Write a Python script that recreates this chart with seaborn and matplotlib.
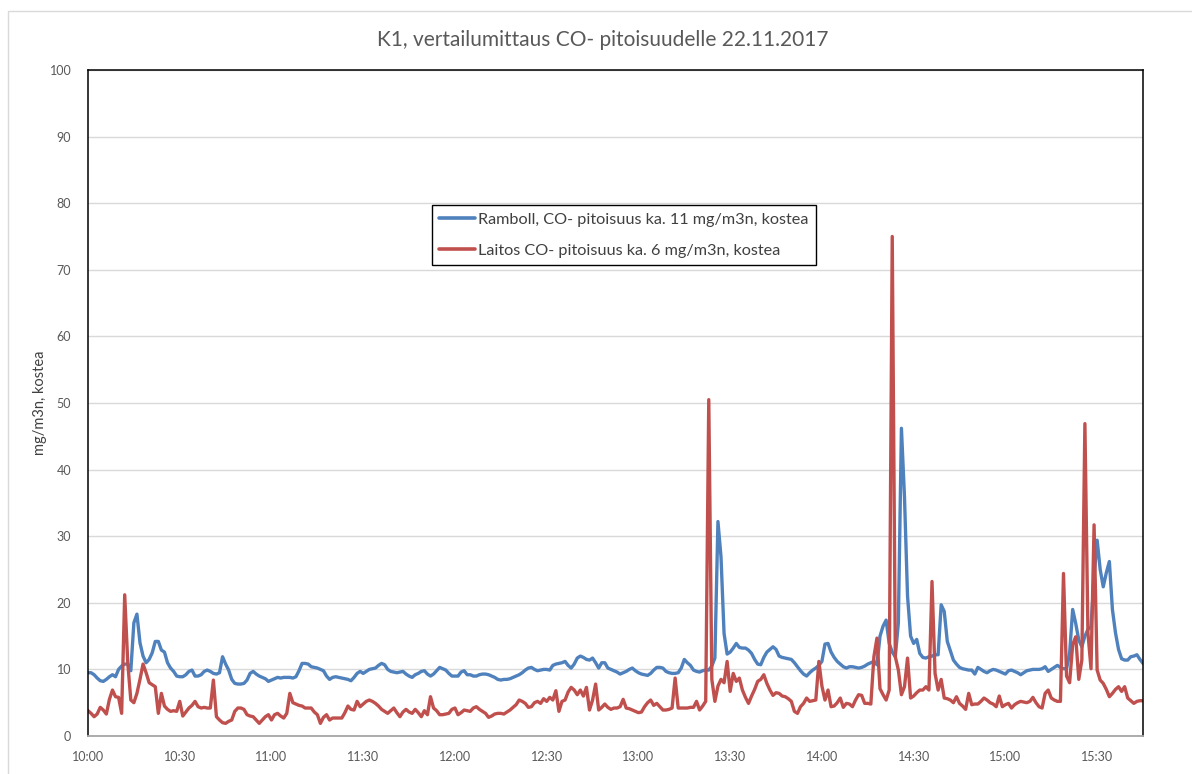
import numpy as np
import pandas as pd
import matplotlib
matplotlib.use("Agg")
import matplotlib.pyplot as plt
from matplotlib.patches import Rectangle
import seaborn as sns

# CO concentration, one reading per minute from 10:00 to 15:45 (mg/m3n, wet)
ramboll = [
    9.5, 9.5, 9.2, 8.7, 8.3, 8.2, 8.5, 8.9, 9.2, 8.9,
    10.0, 10.5, 10.8, 10.8, 9.8, 17.0, 18.3, 14.0, 12.0, 11.0,
    11.5, 12.5, 14.2, 14.2, 12.9, 12.6, 11.0, 10.2, 9.7, 9.0,
    8.9, 8.9, 9.2, 9.7, 9.9, 9.0, 9.0, 9.2, 9.7, 9.9,
    9.7, 9.4, 9.3, 9.5, 11.9, 10.8, 9.9, 8.5, 7.9, 7.8,
    7.8, 7.9, 8.4, 9.4, 9.7, 9.3, 9.0, 8.8, 8.6, 8.2,
    8.4, 8.6, 8.8, 8.7, 8.8, 8.8, 8.8, 8.7, 8.9, 9.8,
    10.9, 10.9, 10.8, 10.4, 10.3, 10.2, 10.0, 9.8, 9.0, 8.5,
    8.8, 8.9, 8.8, 8.7, 8.6, 8.5, 8.3, 8.8, 9.4, 9.7,
    9.4, 9.7, 10.0, 10.1, 10.2, 10.6, 10.9, 10.7, 10.0, 9.7,
    9.6, 9.5, 9.6, 9.7, 9.3, 9.0, 8.8, 9.2, 9.4, 9.7,
    9.8, 9.3, 9.0, 9.3, 9.8, 10.3, 10.1, 9.9, 9.4, 9.0,
    9.0, 9.0, 9.6, 9.8, 9.2, 9.2, 9.0, 9.0, 9.2, 9.3,
    9.3, 9.2, 9.0, 8.8, 8.5, 8.4, 8.5, 8.5, 8.6, 8.8,
    9.0, 9.2, 9.5, 9.9, 10.2, 10.3, 10.0, 9.8, 9.9, 10.0,
    10.0, 9.9, 10.6, 10.8, 10.9, 11.0, 11.2, 10.6, 10.2, 10.8,
    11.7, 12.0, 11.8, 11.5, 11.4, 11.7, 11.0, 10.2, 11.0, 11.0,
    10.2, 10.0, 9.8, 9.6, 9.3, 9.5, 9.7, 10.0, 10.2, 9.8,
    9.5, 9.3, 9.2, 9.1, 9.4, 9.9, 10.3, 10.3, 10.2, 9.7,
    9.5, 9.4, 9.4, 9.5, 10.2, 11.5, 11.0, 10.6, 9.9, 9.7,
    9.6, 9.8, 9.9, 9.9, 10.5, 11.7, 32.2, 26.9, 15.4, 12.3,
    12.6, 13.2, 13.9, 13.3, 13.2, 13.2, 12.9, 12.4, 11.5, 10.8,
    10.7, 11.8, 12.6, 13.0, 13.4, 13.0, 12.0, 11.8, 11.7, 11.6,
    11.5, 11.0, 10.4, 9.8, 9.3, 9.0, 9.5, 9.9, 10.2, 10.6,
    11.2, 13.8, 13.9, 12.6, 11.8, 11.2, 10.8, 10.4, 10.2, 10.4,
    10.4, 10.3, 10.2, 10.3, 10.5, 10.8, 11.0, 11.2, 10.7, 15.0,
    16.5, 17.4, 13.9, 12.6, 11.9, 17.0, 46.2, 35.9, 21.0, 15.0,
    13.9, 14.5, 12.4, 11.8, 11.7, 11.9, 12.0, 12.2, 12.2, 19.7,
    18.7, 14.2, 12.8, 11.4, 10.8, 10.3, 10.1, 10.0, 9.9, 9.9,
    9.3, 10.3, 10.0, 9.7, 9.5, 9.8, 10.0, 9.9, 9.7, 9.5,
    9.3, 9.8, 9.9, 9.7, 9.5, 9.2, 9.5, 9.8, 9.9, 10.0,
    10.0, 10.0, 10.1, 10.4, 9.7, 10.0, 10.3, 10.6, 10.3, 10.1,
    10.1, 12.4, 19.0, 16.9, 14.4, 13.4, 15.0, 16.0, 16.4, 24.0,
    29.4, 25.0, 22.4, 24.5, 26.2, 19.0, 15.5, 13.0, 11.6, 11.4,
    11.4, 11.9, 12.0, 12.2, 11.5, 10.9,
]

laitos = [
    3.8, 3.4, 2.9, 3.3, 4.3, 3.9, 3.3, 5.5, 6.9, 5.9,
    5.8, 3.4, 21.2, 11.0, 5.4, 5.0, 6.4, 8.5, 10.8, 9.5,
    8.0, 7.7, 7.4, 3.4, 6.4, 4.5, 4.0, 3.7, 3.8, 3.7,
    5.2, 3.0, 3.6, 4.2, 4.6, 5.2, 4.4, 4.2, 4.3, 4.2,
    4.2, 8.4, 2.9, 2.4, 2.0, 1.9, 2.2, 2.4, 3.7, 4.2,
    4.2, 4.0, 3.2, 3.0, 2.9, 2.4, 1.9, 2.4, 2.9, 3.2,
    2.4, 3.2, 3.4, 3.0, 2.7, 3.4, 6.4, 5.0, 4.8, 4.6,
    4.5, 4.2, 4.2, 4.2, 3.6, 3.2, 1.9, 2.8, 3.2, 2.4,
    2.7, 2.7, 2.7, 2.7, 3.5, 4.5, 4.0, 3.9, 5.2, 4.4,
    4.8, 5.2, 5.4, 5.2, 4.9, 4.5, 4.0, 3.7, 3.4, 3.8,
    4.2, 3.5, 2.9, 3.6, 4.0, 3.6, 3.4, 4.0, 3.5, 2.9,
    3.8, 3.2, 5.9, 4.2, 3.8, 3.2, 3.2, 3.3, 3.4, 4.0,
    4.2, 3.2, 3.5, 3.9, 3.8, 3.7, 4.2, 4.4, 4.0, 3.7,
    3.4, 2.8, 3.0, 3.3, 3.4, 3.4, 3.3, 3.6, 3.9, 4.3,
    4.7, 5.4, 5.2, 4.9, 4.3, 4.4, 5.0, 5.2, 4.9, 5.6,
    5.2, 5.8, 5.4, 6.8, 3.7, 5.2, 5.4, 6.6, 7.3, 6.9,
    6.2, 6.9, 6.0, 7.3, 3.9, 5.4, 7.8, 3.9, 4.3, 4.8,
    4.3, 4.0, 4.2, 4.2, 4.4, 5.5, 4.2, 4.1, 3.9, 3.7,
    3.5, 3.6, 4.4, 5.0, 5.4, 4.6, 4.9, 4.4, 3.9, 3.9,
    4.0, 4.2, 8.7, 4.2, 4.2, 4.2, 4.2, 4.3, 4.3, 5.2,
    3.9, 4.5, 5.2, 50.5, 8.5, 5.2, 7.5, 8.5, 8.0, 11.2,
    6.7, 9.4, 8.2, 8.7, 6.9, 5.8, 4.9, 6.0, 7.0, 8.2,
    8.5, 9.2, 7.9, 6.9, 6.1, 6.5, 6.4, 6.0, 5.9, 5.6,
    5.2, 3.7, 3.4, 4.4, 4.9, 5.7, 5.2, 5.3, 5.4, 11.2,
    7.5, 5.4, 6.9, 4.4, 4.5, 5.0, 5.7, 4.3, 4.9, 4.8,
    4.4, 5.4, 6.2, 6.1, 4.9, 4.9, 4.8, 11.9, 14.7, 7.1,
    6.2, 5.4, 6.9, 75.0, 11.9, 9.9, 6.2, 7.4, 11.7, 5.7,
    6.0, 6.5, 6.9, 6.9, 7.4, 6.9, 23.2, 9.4, 6.9, 8.5,
    5.7, 5.6, 5.4, 5.0, 5.9, 4.9, 4.5, 4.0, 6.4, 4.7,
    4.8, 4.8, 5.2, 5.7, 5.4, 5.0, 4.8, 4.4, 6.0, 4.4,
    4.7, 4.9, 4.2, 4.7, 5.0, 5.2, 5.1, 5.0, 5.2, 5.8,
    5.0, 4.4, 4.2, 6.4, 6.9, 5.7, 5.4, 5.2, 5.2, 24.4,
    9.0, 8.0, 13.7, 14.9, 8.5, 11.4, 46.9, 15.4, 10.1, 31.7,
    9.9, 8.4, 7.9, 7.0, 5.9, 6.4, 7.0, 7.4, 6.7, 7.4,
    5.7, 5.3, 4.9, 5.2, 5.3, 5.3,
]

series_names = [
    "Ramboll, CO- pitoisuus ka. 11 mg/m3n, kostea",
    "Laitos CO- pitoisuus ka. 6 mg/m3n, kostea",
]
series_colors = ["#4F81BD", "#C0504D"]

time_labels = ["10:00", "10:30", "11:00", "11:30", "12:00", "12:30",
               "13:00", "13:30", "14:00", "14:30", "15:00", "15:30"]
y_ticks = list(range(0, 101, 10))

title = "K1, vertailumittaus CO- pitoisuudelle 22.11.2017"
y_label = "mg/m3n, kostea"

frames = []
for name, vals in zip(series_names, [ramboll, laitos]):
    frames.append(pd.DataFrame({"minute": np.arange(len(vals)),
                                "value": vals, "series": name}))
df = pd.concat(frames, ignore_index=True)

sns.set_style("white")
plt.rcParams["font.family"] = ["Lato", "DejaVu Sans"]

W, H = 1192, 774
fig = plt.figure(figsize=(W / 100, H / 100), dpi=100)
ax = fig.add_axes([88 / W, 1 - 736 / H, 1055 / W, 666 / H])

sns.lineplot(data=df, x="minute", y="value", hue="series",
             hue_order=series_names, palette=series_colors,
             linewidth=2.4, ax=ax)

ax.set_xlim(0, 345)
ax.set_ylim(0, 100)
ax.set_xticks(range(0, 30 * len(time_labels), 30))
ax.set_xticklabels(time_labels)
ax.set_yticks(y_ticks)
ax.tick_params(axis="both", length=0, labelsize=9, labelcolor="#595959")
ax.tick_params(axis="x", pad=11)
ax.tick_params(axis="y", pad=12)
ax.set_xlabel("")
ax.set_ylabel("")

ax.yaxis.grid(True, color="#D9D9D9", linewidth=1)
ax.xaxis.grid(False)
ax.set_axisbelow(True)

for side in ["left", "top", "right"]:
    ax.spines[side].set_color("#000000")
    ax.spines[side].set_linewidth(1.1)
ax.spines["bottom"].set_color("#A6A6A6")
ax.spines["bottom"].set_linewidth(1.3)

handles, labels = ax.get_legend_handles_labels()
leg = ax.legend(handles, labels, loc="upper left",
                bbox_to_anchor=((432 - 88) / 1055, (736 - 205) / 666),
                borderaxespad=0,
                fontsize=11.7, frameon=True, fancybox=False,
                edgecolor="#000000", framealpha=1,
                handlelength=2.2, handletextpad=0.2,
                labelspacing=1.05, borderpad=0.45, title=None)
leg.get_frame().set_linewidth(1.0)
for txt in leg.get_texts():
    txt.set_color("#404040")
for line in leg.get_lines():
    line.set_linewidth(2.6)

fig.text(603 / W, 1 - 40 / H, title, ha="center", va="center",
         fontsize=15, color="#595959")
fig.text(40 / W, 1 - 403 / H, y_label, ha="center", va="center",
         rotation=90, fontsize=10.5, color="#404040")

fig.patches.append(Rectangle((8 / W, -0.05), 1.1, 1 - 11 / H + 0.05,
                             transform=fig.transFigure, fill=False,
                             edgecolor="#D9D9D9", linewidth=1.0))

fig.savefig("out.png", dpi=100, facecolor="white")
